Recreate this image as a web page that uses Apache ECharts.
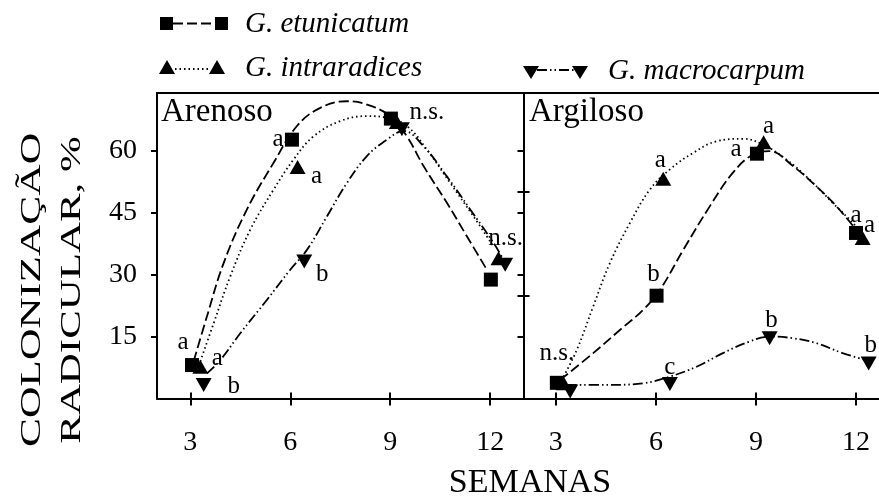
<!DOCTYPE html>
<html><head><meta charset="utf-8">
<script src="https://cdn.jsdelivr.net/npm/echarts@6/dist/echarts.min.js"></script>
<style>html,body{margin:0;padding:0;background:#fff}#c{width:879px;height:497px}</style>
</head><body><div id="c"></div>
<script>
// ---- Data ----
const xTicks = [3, 6, 9, 12];
const yTicks = [15, 30, 45, 60];
const yTicksRight = [25, 50];
const seriesNames = ['G. etunicatum', 'G. intraradices', 'G. macrocarpum'];

// Arenoso (left panel) – measured points
const arEtunX = [3.05, 6.05, 9.02, 12.02];
const arEtunY = [8.1, 62.7, 67.8, 28.8];
const arIntrX = [3.3, 6.22, 9.2, 12.25];
const arIntrY = [7.7, 56.1, 67.0, 34.0];
const arMacrX = [3.4, 6.42, 9.35, 12.45];
const arMacrY = [3.3, 33.2, 65.2, 32.4];
const arEtunLbl = ['a', 'a', 'n.s.', ''];
const arIntrLbl = ['a', 'a', '', 'n.s.'];
const arMacrLbl = ['b', 'b', '', ''];

// Arenoso fitted curves
const arEtunCurveX = [3.1, 3.5, 4.0, 4.7, 5.5, 6.2, 6.9, 7.7, 8.3, 9.0, 9.5, 10.0, 10.7, 11.3, 11.9];
const arEtunCurveY = [9.0, 19.9, 32.8, 45.8, 57.1, 66.0, 70.4, 72.0, 71.2, 68.4, 63.5, 56.3, 47.4, 39.3, 31.2];
const arIntrCurveX = [3.3, 3.7, 4.2, 4.8, 5.5, 6.1, 6.7, 7.5, 8.3, 8.9, 9.5, 10.1, 10.8, 11.5, 12.1];
const arIntrCurveY = [9.0, 18.2, 29.6, 40.9, 50.6, 57.9, 63.5, 67.2, 68.4, 68.0, 66.0, 60.3, 52.2, 44.1, 36.8];
const arMacrCurveX = [3.5, 3.9, 4.5, 5.3, 6.0, 6.5, 7.1, 7.7, 8.3, 8.9, 9.4, 10.0, 10.7, 11.4, 12.1, 12.4];
const arMacrCurveY = [6.1, 9.3, 15.8, 23.9, 31.2, 36.0, 44.1, 52.2, 58.7, 62.7, 64.8, 61.1, 53.8, 45.8, 37.7, 33.6];

// Argiloso (right panel) – measured points
const agEtunX = [3.03, 6.02, 9.03, 12.0];
const agEtunY = [3.8, 24.9, 59.3, 40.1];
const agIntrX = [3.23, 6.22, 9.23, 12.2];
const agIntrY = [3.7, 53.2, 62.1, 38.9];
const agMacrX = [3.43, 6.42, 9.41, 12.38];
const agMacrY = [1.7, 3.5, 14.6, 8.5];
const agEtunLbl = ['n.s.', 'b', 'a', 'a'];
const agIntrLbl = ['', 'a', 'a', 'a'];
const agMacrLbl = ['', 'c', 'b', 'b'];

// Argiloso fitted curves
const agEtunCurveX = [3.13, 4.12, 4.92, 5.62, 6.12, 6.82, 7.62, 8.31, 8.91, 9.41, 10.11, 10.81, 11.41, 12.0];
const agEtunCurveY = [4.5, 11.0, 16.6, 21.5, 26.3, 36.0, 46.6, 54.7, 59.1, 59.9, 56.3, 51.4, 46.6, 40.9];
const agIntrCurveX = [3.23, 3.63, 4.12, 4.62, 5.22, 5.82, 6.42, 7.12, 7.82, 8.61, 9.21, 9.91, 10.61, 11.3, 12.0, 12.3];
const agIntrCurveY = [5.3, 11.8, 22.3, 32.8, 42.5, 50.6, 55.5, 59.5, 62.3, 62.9, 61.5, 57.9, 53.0, 47.4, 41.7, 38.5];
const agMacrCurveX = [3.33, 4.62, 5.62, 6.42, 7.22, 8.01, 8.81, 9.41, 10.11, 10.81, 11.6, 12.3];
const agMacrCurveY = [3.3, 3.3, 3.7, 5.3, 7.7, 11.0, 13.8, 15.0, 14.6, 13.4, 11.0, 9.3];

// ---- Styles (label offsets in pixels) ----
const lblOff = {
  arEtun: [[-9, -23], [-14, 0], [36, -6], [0, 0]],
  arIntr: [[17, -8], [19, 10], [0, 0], [7, -20]],
  arMacr: [[30, 2], [18, 13], [0, 0], [0, 0]],
  agEtun: [[0, -29], [-3, -21], [-21, -4], [0, -18]],
  agIntr: [[0, 0], [-3, -18], [5, -16], [7, -12]],
  agMacr: [[0, 0], [0, -17], [2, -18], [2, -18]]
};
const FONT = 'Liberation Serif';
const BLACK = '#000';
const dashEtun = [10, 4];
const dashIntr = [1.5, 3];
const dashMacr = [10, 3, 1.5, 3, 1.5, 3];

function pts(xs, ys) { return xs.map((x, i) => [x, ys[i]]); }
function scat(xs, ys, lbls, offs) {
  return xs.map((x, i) => ({
    value: [x, ys[i]],
    label: { show: !!lbls[i], formatter: lbls[i], offset: offs[i] }
  }));
}
const symStyle = {
  etun: { symbol: 'rect', symbolSize: 14, symbolRotate: 0 },
  intr: { symbol: 'triangle', symbolSize: [16, 14], symbolRotate: 0 },
  macr: { symbol: 'triangle', symbolSize: [16, 14], symbolRotate: 180 }
};
function curve(name, xs, ys, dash, xi, yi) {
  return { name, type: 'line', xAxisIndex: xi, yAxisIndex: yi, data: pts(xs, ys), smooth: 0.4,
    showSymbol: false, symbol: 'none', lineStyle: { color: BLACK, width: 1.8, type: dash, opacity: 1 }, z: 2, silent: true };
}
function marks(name, key, xs, ys, lbls, offs, xi, yi) {
  return Object.assign({ name, type: 'scatter', xAxisIndex: xi, yAxisIndex: yi,
    data: scat(xs, ys, lbls, offs), itemStyle: { color: BLACK, opacity: 1 }, z: 3, silent: true,
    label: { position: 'inside', color: BLACK, opacity: 1, fontFamily: FONT, fontSize: 25, align: 'center', verticalAlign: 'middle' }
  }, symStyle[key]);
}

const axisLine = { show: true, lineStyle: { color: BLACK, width: 2 } };
const noLine = { show: false };
function xAx(grid, min, max, kind) {
  const base = { type: 'value', gridIndex: grid, min, max, splitLine: { show: false } };
  if (kind === 'main') return Object.assign(base, { position: 'bottom', axisLine,
    axisTick: { show: true, inside: false, length: 7, customValues: xTicks, lineStyle: { color: BLACK, width: 2 } },
    axisLabel: { show: true, customValues: xTicks, margin: 30, color: BLACK, fontFamily: FONT, fontSize: 28 } });
  if (kind === 'in') return Object.assign(base, { position: 'bottom', axisLine: noLine,
    axisTick: { show: true, inside: true, length: 6, customValues: xTicks, lineStyle: { color: BLACK, width: 2 } },
    axisLabel: { show: false } });
  return Object.assign(base, { position: 'top', axisLine, axisTick: { show: false }, axisLabel: { show: false } });
}
function yAx(grid, pos, ticks, inside, showLine, showLabel) {
  return { type: 'value', gridIndex: grid, min: 0, max: 74, position: pos, splitLine: { show: false },
    axisLine: showLine ? axisLine : noLine,
    axisTick: { show: true, inside, length: 6, customValues: ticks, lineStyle: { color: BLACK, width: 2 } },
    axisLabel: { show: showLabel, customValues: ticks, margin: 20, color: BLACK, fontFamily: FONT, fontSize: 28 } };
}

const option = {
  backgroundColor: '#fff',
  animation: false,
  grid: [
    { left: 157, top: 93, width: 366.5, height: 305.5 },
    { left: 523.5, top: 93, right: 0, height: 305.5 }
  ],
  xAxis: [
    xAx(0, 2, 13, 'main'), xAx(0, 2, 13, 'in'), xAx(0, 2, 13, 'top'),
    xAx(1, 2.03, 12.69, 'main'), xAx(1, 2.03, 12.69, 'in'), xAx(1, 2.03, 12.69, 'top')
  ],
  yAxis: [
    yAx(0, 'left', yTicks, false, true, true),
    yAx(0, 'right', yTicks, true, true, false),
    yAx(1, 'left', yTicksRight, true, true, false),
    yAx(1, 'left', yTicksRight, false, false, false)
  ],
  series: [
    curve(seriesNames[0], arEtunCurveX, arEtunCurveY, dashEtun, 0, 0),
    curve(seriesNames[1], arIntrCurveX, arIntrCurveY, dashIntr, 0, 0),
    curve(seriesNames[2], arMacrCurveX, arMacrCurveY, dashMacr, 0, 0),
    marks(seriesNames[1], 'intr', arIntrX, arIntrY, arIntrLbl, lblOff.arIntr, 0, 0),
    marks(seriesNames[2], 'macr', arMacrX, arMacrY, arMacrLbl, lblOff.arMacr, 0, 0),
    marks(seriesNames[0], 'etun', arEtunX, arEtunY, arEtunLbl, lblOff.arEtun, 0, 0),
    curve(seriesNames[0], agEtunCurveX, agEtunCurveY, dashEtun, 3, 2),
    curve(seriesNames[1], agIntrCurveX, agIntrCurveY, dashIntr, 3, 2),
    curve(seriesNames[2], agMacrCurveX, agMacrCurveY, dashMacr, 3, 2),
    marks(seriesNames[1], 'intr', agIntrX, agIntrY, agIntrLbl, lblOff.agIntr, 3, 2),
    marks(seriesNames[2], 'macr', agMacrX, agMacrY, agMacrLbl, lblOff.agMacr, 3, 2),
    marks(seriesNames[0], 'etun', agEtunX, agEtunY, agEtunLbl, lblOff.agEtun, 3, 2)
  ],
  graphic: [
    // panel titles
    { type: 'text', left: 161, top: 96, style: { text: 'Arenoso', font: '33px "' + FONT + '"', fill: BLACK } },
    { type: 'text', left: 529, top: 96, style: { text: 'Argiloso', font: '33px "' + FONT + '"', fill: BLACK } },
    // x axis title
    { type: 'text', x: 530, y: 483, style: { text: 'SEMANAS', font: '34px "' + FONT + '"', fill: BLACK, align: 'center', verticalAlign: 'middle' } },
    // y axis title (two lines, rotated)
    { type: 'text', x: 32, y: 290, rotation: Math.PI / 2, scaleX: 1.45,
      style: { text: 'COLONIZAÇÃO', font: '30px "' + FONT + '"', fill: BLACK, align: 'center', verticalAlign: 'middle' } },
    { type: 'text', x: 72, y: 290, rotation: Math.PI / 2, scaleX: 1.43,
      style: { text: 'RADICULAR, %', font: '30px "' + FONT + '"', fill: BLACK, align: 'center', verticalAlign: 'middle' } },
    // legend row 1: squares with dashed line
    { type: 'rect', shape: { x: 160, y: 17, width: 13, height: 13 }, style: { fill: BLACK } },
    { type: 'line', shape: { x1: 173, y1: 23.5, x2: 215, y2: 23.5 }, style: { stroke: BLACK, lineWidth: 1.8, lineDash: dashEtun } },
    { type: 'rect', shape: { x: 215, y: 17, width: 13, height: 13 }, style: { fill: BLACK } },
    { type: 'text', x: 245, y: 24, style: { text: seriesNames[0], font: 'italic 29px "' + FONT + '"', fill: BLACK, verticalAlign: 'middle' } },
    // legend row 2: triangles with dotted line
    { type: 'polygon', shape: { points: [[159, 74], [167, 60], [175, 74]] }, style: { fill: BLACK } },
    { type: 'line', shape: { x1: 175, y1: 69, x2: 209, y2: 69 }, style: { stroke: BLACK, lineWidth: 1.8, lineDash: dashIntr } },
    { type: 'polygon', shape: { points: [[209, 74], [217, 60], [225, 74]] }, style: { fill: BLACK } },
    { type: 'text', x: 245, y: 68, style: { text: seriesNames[1], font: 'italic 29px "' + FONT + '"', fill: BLACK, verticalAlign: 'middle' } },
    // legend row 3: inverted triangles with dash-dot line
    { type: 'polygon', shape: { points: [[523, 66], [539, 66], [531, 79]] }, style: { fill: BLACK } },
    { type: 'line', shape: { x1: 537, y1: 70, x2: 574, y2: 70 }, style: { stroke: BLACK, lineWidth: 1.8, lineDash: dashMacr } },
    { type: 'polygon', shape: { points: [[572, 66], [588, 66], [580, 79]] }, style: { fill: BLACK } },
    { type: 'text', x: 608, y: 71, style: { text: seriesNames[2], font: 'italic 29px "' + FONT + '"', fill: BLACK, verticalAlign: 'middle' } }
  ]
};
const chart = echarts.init(document.getElementById('c'), null, { renderer: 'canvas' });
chart.setOption(option);
</script>
</body></html>
